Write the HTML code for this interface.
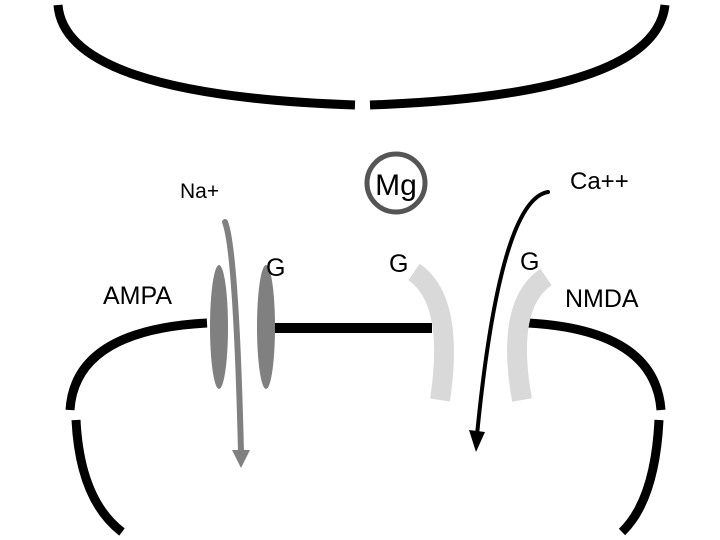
<!DOCTYPE html>
<html><head><style>html,body{margin:0;padding:0;background:#fff}svg{display:block}text{font-family:"Liberation Sans",Arial,sans-serif}</style></head>
<body>
<svg width="720" height="540" viewBox="0 0 720 540">
<g fill="none" stroke="#000" stroke-width="9" stroke-linecap="butt">
<path d="M58,5 Q65,95 355,105"/>
<path d="M370,105 Q655,95 665,5"/>
<path d="M207,323 Q75,330 70,410"/>
<path d="M76,420 Q80,500 122,532"/>
<path d="M272,328 L432,328" stroke-width="10"/>
<path d="M528,323 Q655,330 661,410"/>
<path d="M659,420 Q655,500 622,532"/>
</g>
<g fill="none" stroke="#d9d9d9" stroke-width="20">
<path d="M414,272 Q455,300 440,400"/>
<path d="M546,277 Q505,305 522,400"/>
</g>
<ellipse cx="219" cy="327" rx="9" ry="62" fill="#808080"/>
<ellipse cx="266" cy="327" rx="9" ry="62" fill="#808080"/>
<path d="M225,222 Q236,250 241,452" fill="none" stroke="#808080" stroke-width="6" stroke-linecap="round"/>
<polygon points="232,450 250,450 241,468" fill="#808080"/>
<path d="M548,192 Q500,200 477,435" fill="none" stroke="#000" stroke-width="4" stroke-linecap="round"/>
<polygon points="469,430 485,432 476,452" fill="#000"/>
<circle cx="396" cy="183" r="29" fill="none" stroke="#555" stroke-width="5"/>
<text x="396" y="195" font-size="30" text-anchor="middle">Mg</text>
<text x="180" y="198" font-size="21">Na+</text>
<text x="103" y="304" font-size="25">AMPA</text>
<text x="266" y="276" font-size="25">G</text>
<text x="389" y="272" font-size="25">G</text>
<text x="520" y="270" font-size="25">G</text>
<text x="570" y="189" font-size="24">Ca++</text>
<text x="565" y="307" font-size="25">NMDA</text>
</svg>
</body></html>
